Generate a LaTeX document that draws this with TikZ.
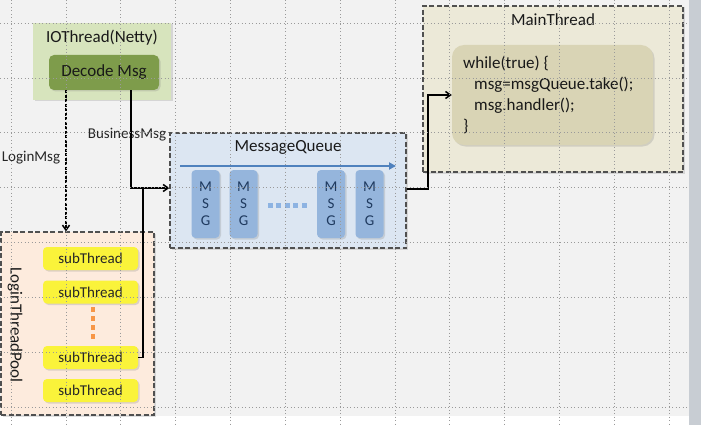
\documentclass[tikz,border=0pt]{standalone}
\usepackage{fontspec}
\setmainfont{Carlito}
\usetikzlibrary{arrows.meta,shadows}
\definecolor{bgc}{HTML}{F2F2F2}
\definecolor{stripc}{HTML}{C8CDD3}
\definecolor{gridc}{HTML}{9A9A9A}
\definecolor{greenout}{HTML}{D7E4BD}
\definecolor{greenin}{HTML}{7E9C4B}
\definecolor{tanout}{HTML}{ECE9D8}
\definecolor{tanin}{HTML}{D9D4B5}
\definecolor{blueout}{HTML}{DCE6F2}
\definecolor{msgc}{HTML}{95B5DC}
\definecolor{msgtxt}{HTML}{1F3A5F}
\definecolor{qarrow}{HTML}{4F81BD}
\definecolor{qdots}{HTML}{8DB3E2}
\definecolor{peach}{HTML}{FDEBDD}
\definecolor{yel}{HTML}{FAF33A}
\definecolor{orangec}{HTML}{F79646}
\definecolor{dashc}{HTML}{505050}
\tikzset{
  dbox/.style={draw=dashc,line width=1.2pt,dash pattern=on 5pt off 2.5pt,inner sep=0pt,
    drop shadow={shadow xshift=1.5pt,shadow yshift=-1.5pt,opacity=0.25}},
  rbox/.style={inner sep=0pt,rounded corners=5pt,
    drop shadow={shadow xshift=1.5pt,shadow yshift=-1.5pt,opacity=0.25}},
  msgbox/.style={rbox,fill=msgc,rounded corners=4pt,minimum width=28pt,minimum height=68pt,
    font=\fontsize{15}{17}\selectfont,text=msgtxt,align=center},
  subbox/.style={rbox,fill=yel,rounded corners=4pt,minimum width=95pt,minimum height=23pt,
    font=\fontsize{15}{18}\selectfont,text=black!85},
  title/.style={font=\fontsize{17}{20}\selectfont,inner sep=0pt,text=black!90},
  lbl/.style={font=\fontsize{15}{18}\selectfont,inner sep=0pt,text=black!85},
  conn/.style={line width=1.5pt,draw=black},
  tip/.style={-{Straight Barb[length=5pt,width=7pt,line width=1.5pt]}},
}
\begin{document}
\begin{tikzpicture}[x=1pt,y=-1pt]
\useasboundingbox (0,0) rectangle (701,425);
% background
\fill[white] (0,0) rectangle (701,425);
\fill[bgc] (0,0) rectangle (689,416);
\fill[stripc] (689,0) rectangle (701,425);

% IOThread
\node[rbox,fill=greenout,rounded corners=0pt,minimum width=138pt,minimum height=77pt] (io) at (102,61.5) {};
\node[title] (iot) at (102,38) {IOThread(Netty)};
\node[rbox,fill=greenin,minimum width=110pt,minimum height=35pt,title] (dec) at (104,72.5) {Decode Msg};

% MessageQueue
\node[dbox,fill=blueout,minimum width=236pt,minimum height=115pt] (mq) at (288,190.5) {};
\node[title] (mqt) at (288,147) {MessageQueue};
\coordinate (qa) at (180,166);
\coordinate (qb) at (396,166);
\draw[qarrow,line width=2pt,-{Triangle[length=7pt,width=7pt]}] (qa) -- (qb);
\node[msgbox] (m1) at (205.5,204) {M\\S\\G};
\node[msgbox] (m2) at (243.5,204) {M\\S\\G};
\node[msgbox] (m3) at (331,204) {M\\S\\G};
\node[msgbox] (m4) at (369.5,204) {M\\S\\G};
\foreach \i in {0,...,4}{
  \node[fill=qdots,minimum size=5pt,inner sep=0pt] (qd\i) at (270+8.5*\i,205) {};
}

% MainThread
\node[dbox,fill=tanout,minimum width=260pt,minimum height=166pt] (mt) at (553,89) {};
\node[title] (mtt) at (553,20) {MainThread};
\node[rbox,fill=tanin,rounded corners=12pt,minimum width=201pt,minimum height=100pt] (code) at (552.5,95) {};
\node[title,anchor=west] (c1) at (463,63) {while(true) \{};
\node[title,anchor=west] (c2) at (474,85) {msg=msgQueue.take();};
\node[title,anchor=west] (c3) at (474,106) {msg.handler();};
\node[title,anchor=west] (c4) at (463,127) {\}};

% LoginThreadPool
\node[dbox,fill=peach,minimum width=153pt,minimum height=183pt] (pool) at (77.5,323.5) {};
\node[title,rotate=-90] (poolt) at (15,325) {LoginThreadPool};
\node[subbox] (s1) at (90.5,258.5) {subThread};
\node[subbox] (s2) at (90.5,292) {subThread};
\node[subbox] (s3) at (90.5,357.5) {subThread};
\node[subbox] (s4) at (90.5,390.5) {subThread};
\foreach \i in {0,...,3}{
  \node[fill=orangec,minimum width=4pt,minimum height=5pt,inner sep=0pt] (od\i) at (93,309+9*\i) {};
}

% labels
\node[lbl] (lm) at (31,158) {LoginMsg};
\node[lbl] (bm) at (127,135) {BusinessMsg};

% connectors
\draw[conn,dashed,dash pattern=on 3pt off 1.5pt,tip] (dec.south -| 66,0) -- (pool.north -| 66,0);
\coordinate (j1) at (131,188);
\draw[conn,tip] (dec.south -| j1) -- (j1) -- (mq.west |- j1);
\coordinate (j2) at (143,357.5);
\draw[conn] (s3.east) -- (j2) -- (143,188);
\coordinate (k1) at (428,189);
\coordinate (k2) at (428,95);
\draw[conn,tip] (mq.east |- k1) -- (k1) -- (k2) -- (code.west);

% grid overlay
\foreach \gx in {0,...,12}{
  \draw[gridc,line width=0.7pt,dash pattern=on 0.7pt off 2.8pt] (11+54.85*\gx,0) -- (11+54.85*\gx,425);
}
\foreach \gy in {0,...,7}{
  \draw[gridc,line width=0.7pt,dash pattern=on 0.7pt off 2.8pt] (0,23+54.9*\gy) -- (689,23+54.9*\gy);
}
\end{tikzpicture}
\end{document}
